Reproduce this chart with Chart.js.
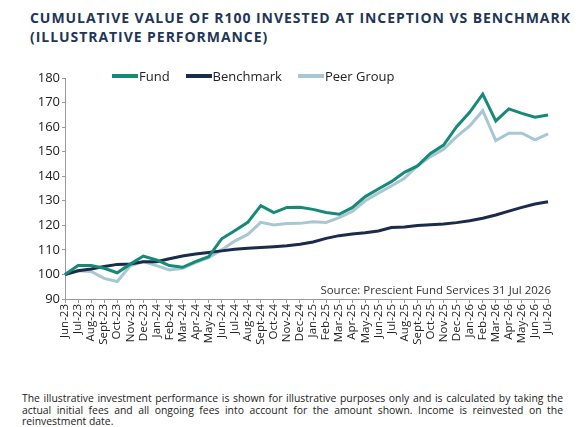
<!DOCTYPE html>
<html>
<head>
<meta charset="utf-8">
<script src="https://cdn.jsdelivr.net/npm/chart.js@4.4.1/dist/chart.umd.min.js"></script>
<style>
  html, body { margin:0; padding:0; background:#fff; }
  body { width:587px; height:427px; position:relative; overflow:hidden; font-family:"Open Sans", sans-serif; }
  #title { position:absolute; left:30px; top:8px; font-weight:700; font-size:14px; line-height:19px; color:#1f3658; letter-spacing:0.95px; white-space:nowrap; }
  #wrap { position:absolute; left:0; top:60px; width:587px; height:300px; }
  #legend { position:absolute; top:67px; left:112px; font-size:13px; color:#222; display:flex; }
  #legend span.item { display:flex; align-items:center; margin-right:16px; }
  #legend span.sw { display:inline-block; width:26px; height:4px; margin-right:1px; }
  #source { position:absolute; right:36px; top:282px; font-size:11.5px; color:#333; }
  #note { position:absolute; left:22px; top:393px; width:541px; font-size:10.4px; line-height:11.6px; color:#222; text-align:justify; }
</style>
</head>
<body>
<div id="title">CUMULATIVE VALUE OF R100 INVESTED AT INCEPTION VS BENCHMARK<br>(ILLUSTRATIVE PERFORMANCE)</div>
<div id="wrap"><canvas id="chart"></canvas></div>
<div id="legend"></div>
<div id="source">Source: Prescient Fund Services 31 Jul 2026</div>
<div id="note">The illustrative investment performance is shown for illustrative purposes only and is calculated by taking the actual initial fees and all ongoing fees into account for the amount shown. Income is reinvested on the reinvestment date.</div>
<script>
// months, Jun-23 .. Jul-26
var months = ['Jun-23','Jul-23','Aug-23','Sept-23','Oct-23','Nov-23','Dec-23',
  'Jan-24','Feb-24','Mar-24','Apr-24','May-24','Jun-24','Jul-24','Aug-24','Sept-24','Oct-24','Nov-24','Dec-24',
  'Jan-25','Feb-25','Mar-25','Apr-25','May-25','Jun-25','Jul-25','Aug-25','Sept-25','Oct-25','Nov-25','Dec-25',
  'Jan-26','Feb-26','Mar-26','Apr-26','May-26','Jun-26','Jul-26'];

var fund = [100,103.6,103.6,102.5,100.7,104.2,107.5,105.9,103.6,102.9,105.2,107.2,114.5,117.8,121.2,128.0,125.2,127.3,127.4,
  126.5,125.2,124.5,127.2,131.7,134.8,137.8,141.6,144.2,149.3,152.7,160.2,166.0,173.4,162.5,167.4,165.6,164.0,164.9];

var benchmark = [100,101.5,102.2,103.2,104.1,104.3,105.2,105.2,106.4,107.5,108.3,108.9,109.6,110.3,110.7,111.0,111.3,111.7,112.3,
  113.2,114.7,115.8,116.5,117.0,117.7,119.1,119.3,119.9,120.2,120.5,121.1,121.9,122.9,124.2,125.8,127.3,128.7,129.6];

var peers = [100,101.5,101.2,98.4,97.1,103.5,105.2,103.6,101.8,102.5,104.8,106.8,110.0,113.6,116.3,121.2,120.1,120.7,120.8,
  121.5,121.2,123.1,125.6,130.0,133.1,136.0,139.2,144.2,148.0,151.0,156.1,160.5,166.7,154.5,157.5,157.5,154.8,157.2];

var yTicks = { min: 90, max: 180, step: 5 };

var fnt = 'Open Sans';
var axisCol = '#9a9a9a';

var chart = new Chart(document.getElementById('chart'), {
  type: 'line',
  data: {
    labels: months,
    datasets: [
      { label: 'Fund', data: fund, borderColor: '#178a77', backgroundColor: '#178a77', borderWidth: 3, pointRadius: 0, tension: 0 },
      { label: 'Benchmark', data: benchmark, borderColor: '#1a2b4c', backgroundColor: '#1a2b4c', borderWidth: 3, pointRadius: 0, tension: 0 },
      { label: 'Peer Group', data: peers, borderColor: '#a7c7d3', backgroundColor: '#a7c7d3', borderWidth: 3, pointRadius: 0, tension: 0 }
    ]
  },
  options: {
    responsive: true,
    maintainAspectRatio: false,
    animation: false,
    layout: { padding: { top: 18, right: 39, bottom: 1, left: 0 } },
    plugins: { legend: { display: false }, tooltip: { enabled: false } },
    scales: {
      x: {
        grid: { drawOnChartArea: false, tickLength: 4, color: axisCol },
        border: { color: axisCol },
        ticks: { autoSkip: false, maxRotation: 90, minRotation: 90, padding: 1, color: '#222', font: { family: fnt, size: 11.5 } },
        afterFit: function (s) { s.height = 60; }
      },
      y: {
        min: yTicks.min, max: yTicks.max,
        grid: { drawOnChartArea: false, tickLength: 3, color: axisCol },
        border: { color: axisCol },
        ticks: { stepSize: yTicks.step, padding: 2, color: '#222', font: { family: fnt, size: 13 } },
        afterFit: function (s) { s.width = 65; }
      }
    }
  }
});

// legend from the chart's datasets
var lg = document.getElementById('legend');
chart.data.datasets.forEach(function (d) {
  var it = document.createElement('span');
  it.className = 'item';
  it.innerHTML = '<span class="sw" style="background:' + d.borderColor + '"></span>' + d.label;
  lg.appendChild(it);
});
</script>
</body>
</html>
